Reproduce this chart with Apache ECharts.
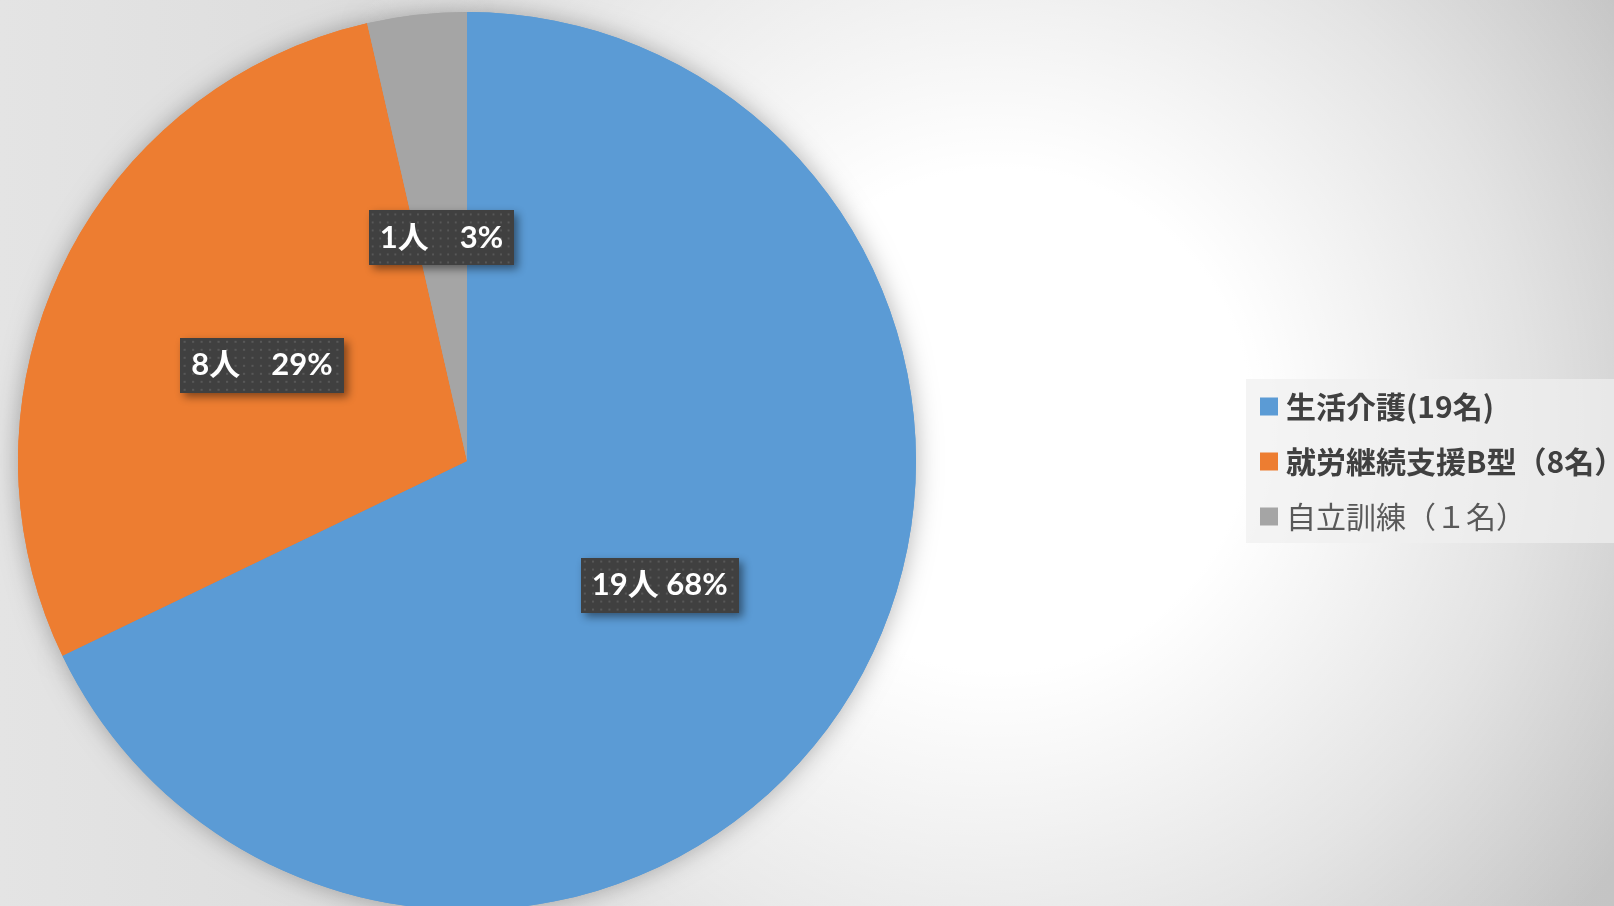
<!DOCTYPE html>
<html>
<head>
<meta charset="utf-8">
<script src="https://cdn.jsdelivr.net/npm/echarts@6/dist/echarts.min.js"></script>
<style>
  html, body { margin: 0; padding: 0; }
  #chart { width: 1614px; height: 906px; }
</style>
</head>
<body>
<div id="chart"></div>
<script>
const categories = ['生活介護(19名)', '就労継続支援B型（8名）', '自立訓練（１名）']
const values = [19, 8, 1]
const percents = [68, 29, 3]
const separators = [' ', '　', '　']
const colors = ['#5b9bd5', '#ed7d31', '#a5a5a5']

// dotted dark texture for the data labels
function makeDots() {
  const c = document.createElement('canvas')
  c.width = 154
  c.height = 55
  const ctx = c.getContext('2d')
  ctx.fillStyle = '#404040'
  ctx.fillRect(0, 0, c.width, c.height)
  ctx.fillStyle = '#585858'
  for (let y = 3; y < c.height; y += 8) {
    for (let x = 3; x < c.width; x += 8) {
      ctx.fillRect(x, y, 2, 2)
    }
  }
  return c
}

const chart = echarts.init(document.getElementById('chart'))
const pieData = values.map((v, i) => ({ name: categories[i], value: v }))

const option = {
  backgroundColor: new echarts.graphic.LinearGradient(0, 0, 1, 0, [
    { offset: 0, color: '#e4e4e4' },
    { offset: 1, color: '#c4c4c4' },
  ]),
  color: colors,
  animation: false,
  graphic: [
    {
      type: 'rect',
      z: -10,
      silent: true,
      shape: { x: 0, y: 0, width: 1614, height: 906 },
      style: {
        fill: new echarts.graphic.RadialGradient(1000, 420, 760, [
          { offset: 0, color: 'rgba(255,255,255,1)' },
          { offset: 0.33, color: 'rgba(255,255,255,1)' },
          { offset: 0.7, color: 'rgba(255,255,255,0.5)' },
          { offset: 1, color: 'rgba(255,255,255,0)' },
        ], true),
      },
    },
  ],
  legend: {
    orient: 'vertical',
    left: 1246,
    top: 379,
    padding: [9, 24, 8, 14],
    backgroundColor: 'rgba(240,240,240,0.7)',
    itemWidth: 18,
    itemHeight: 18,
    itemGap: 18,
    icon: 'rect',
    selectedMode: false,
    textStyle: {
      fontFamily: '"Noto Sans CJK JP", sans-serif',
      fontSize: 30,
      lineHeight: 37,
      fontWeight: 'bold',
      color: '#404040',
      padding: [0, 0, 0, 3],
    },
    data: categories.map((name, i) => i === 2
      ? { name, textStyle: { fontWeight: 'normal', color: '#595959' } }
      : { name }),
  },
  series: [
    {
      // shadow layer under the pie
      type: 'pie',
      silent: true,
      z: 1,
      center: [467, 461],
      radius: 449,
      startAngle: 90,
      label: { show: false },
      labelLine: { show: false },
      itemStyle: {
        shadowBlur: 24,
        shadowColor: 'rgba(0,0,0,0.3)',
      },
      data: pieData,
    },
    {
      type: 'pie',
      z: 2,
      center: [467, 461],
      radius: 449,
      startAngle: 90,
      avoidLabelOverlap: false,
      emphasis: { disabled: true },
      labelLine: { show: false },
      label: {
        show: true,
        position: 'inside',
        offset: [0, 3],
        formatter: (p) => `${p.value}人${separators[p.dataIndex]}${percents[p.dataIndex]}%`,
        fontFamily: 'Lato, "Noto Sans CJK JP", sans-serif',
        fontSize: 31,
        fontWeight: 'bold',
        color: '#ffffff',
        padding: [13, 11, 11, 11],
        backgroundColor: { image: makeDots() },
        shadowColor: 'rgba(0,0,0,0.45)',
        shadowBlur: 8,
        shadowOffsetX: 4,
        shadowOffsetY: 4,
      },
      data: pieData,
    },
  ],
}

chart.setOption(option)
</script>
</body>
</html>
